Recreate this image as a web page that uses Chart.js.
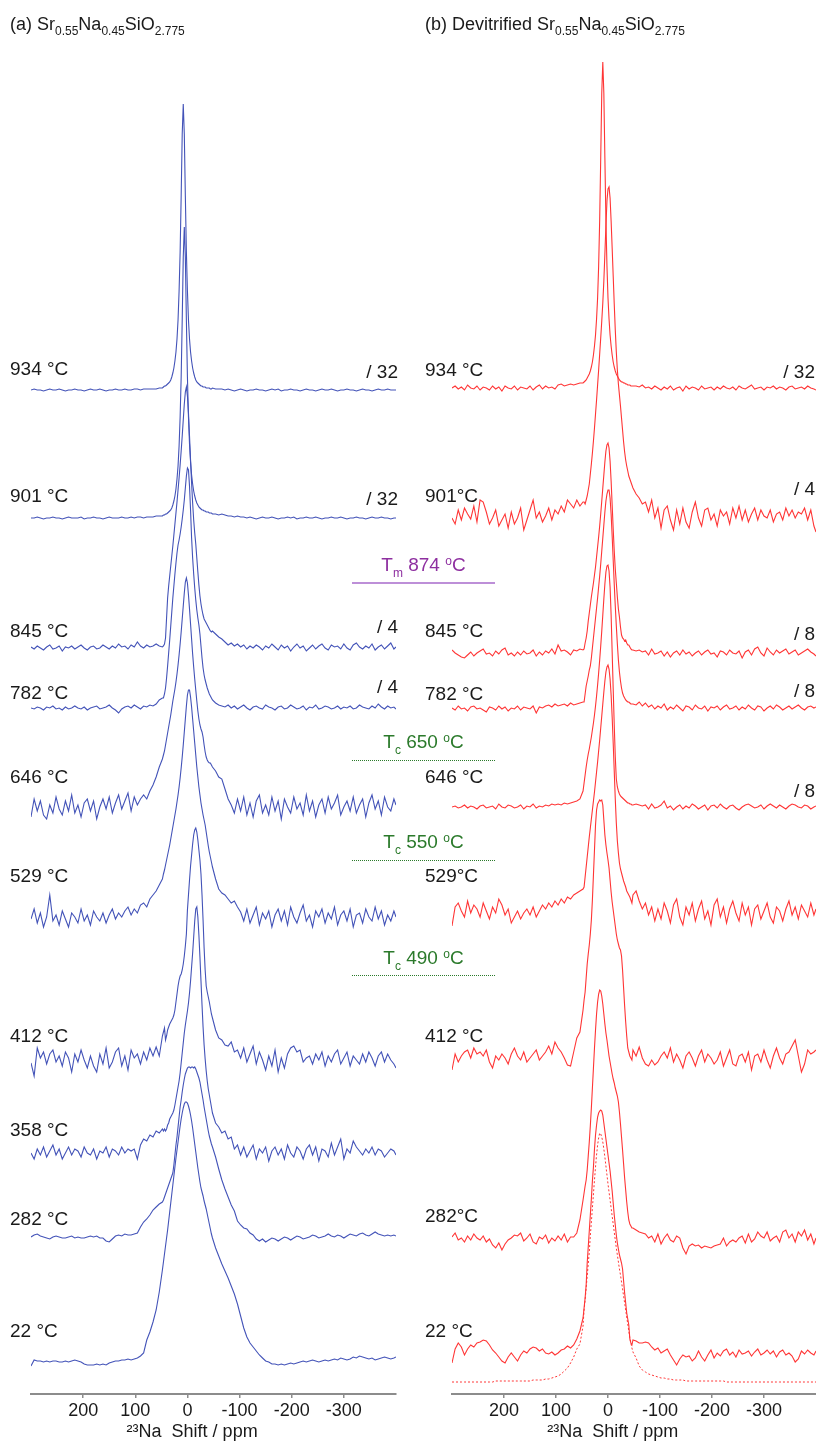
<!DOCTYPE html>
<html>
<head>
<meta charset="utf-8">
<script src="https://cdn.jsdelivr.net/npm/chart.js@4.4.0/dist/chart.umd.min.js"></script>
<style>
body { margin: 0; background: #fff; font-family: "Liberation Sans", Arial, sans-serif; }
#wrap { position: relative; width: 816px; height: 1444px; overflow: hidden; }
canvas { position: absolute; top: 0; }
#cA { left: 0; }
#cB { left: 420px; }
.ttl { position: absolute; top: 14px; font-size: 18px; line-height: 20px; color: #1a1a1a; white-space: nowrap; z-index: 2; }
.ttl sub { font-size: 12px; line-height: 0; vertical-align: -5px; }
.mk { position: absolute; left: 352px; width: 143px; text-align: center; font-size: 19px; line-height: 20px; white-space: nowrap; z-index: 2; }
.mk sub { font-size: 12px; line-height: 0; vertical-align: -6px; }
.mk sup { font-size: 12px; line-height: 0; vertical-align: 6px; }
.ln { position: absolute; left: 352px; width: 143px; z-index: 2; }
</style>
</head>
<body>
<div id="wrap">
  <canvas id="cA" width="408" height="1444"></canvas>
  <canvas id="cB" width="396" height="1444"></canvas>
  <div class="ttl" style="left:10px">(a) Sr<sub>0.55</sub>Na<sub>0.45</sub>SiO<sub>2.775</sub></div>
  <div class="ttl" style="left:425px">(b) Devitrified Sr<sub>0.55</sub>Na<sub>0.45</sub>SiO<sub>2.775</sub></div>

  <div class="mk" style="top:555px;color:#8e2fa0">T<sub>m</sub> 874 <sup>o</sup>C</div>
  <div class="ln" style="top:582px;height:2px;background:#bd8fd8"></div>
  <div class="mk" style="top:732px;color:#2b7a2b">T<sub>c</sub> 650 <sup>o</sup>C</div>
  <div class="ln" style="top:760px;height:0;border-top:1px dotted #2b7a2b"></div>
  <div class="mk" style="top:832px;color:#2b7a2b">T<sub>c</sub> 550 <sup>o</sup>C</div>
  <div class="ln" style="top:860px;height:0;border-top:1px dotted #2b7a2b"></div>
  <div class="mk" style="top:948px;color:#2b7a2b">T<sub>c</sub> 490 <sup>o</sup>C</div>
  <div class="ln" style="top:975px;height:0;border-top:1px dotted #2b7a2b"></div>
</div>
<script>
var FONT = '"Liberation Sans", Arial, sans-serif';
Chart.defaults.font.family = FONT;

// shift grid (ppm): outer left, inner (peak region), outer right
var gridL = [300,294,288,282,276,270,264,258,252,246,240,234,228,222,216,210,204,198,192,186,
  180,174,168,162,156,150,144,138,132,126,120,114,108,102,96,90,84,78,72,66,60,54,48];
var gridI = [46,44,42,40,38,36,34,32,30,28,26,24,22,20,18,16,14,12,10,8,6,4,2,0,
  -2,-4,-6,-8,-10,-12,-14,-16,-18,-20,-22,-24,-26,-28,-30,-32,-34,-36,-38,-40,-42,-44,-46];
var gridR = [-48,-54,-60,-66,-72,-78,-84,-90,-96,-102,-108,-114,-120,-126,-132,-138,-144,-150,-156,-162,
  -168,-174,-180,-186,-192,-198,-204,-210,-216,-222,-228,-234,-240,-246,-252,-258,-264,-270,-276,-282,
  -288,-294,-300,-306,-312,-318,-324,-330,-336,-342,-348,-354,-360,-366,-372,-378,-384,-390,-396,-400];
var tickVals = [200, 100, 0, -100, -200, -300];

// (a) glass, intensities above each trace's own baseline
var a934 = [
  [0,1,0,0,-1,0,1,0,0,1, 0,-1,0,0,1,0,0,-1,0,1, 0,0,1,0,-1,0,0,1,0,0, 1,0,0,1,1,0,1,1,1,1, 1,2,2],
  [3,4,4,5,6,7,8,10,13,17, 22,29,38,51,70,99,138,194,256,286, 256,194,138,99,70,51,38,29,22,17, 13,10,8,7,6,5,4,4,3,3, 3,2,2,2,2,1,1],
  [2,1,1,1,0,1,0,-1,0,1, 0,-1,0,0,1,0,0,-1,0,1, 0,1,-1,0,0,1,0,0,-1,0, 1,0,0,-1,0,1,0,0,1,0, -1,0,0,1,0,0,-1,0,1,0, 0,-1,0,1,0,0,1,0,0,0]
];
var a901 = [
  [0,0,1,0,-1,0,0,1,0,0, -1,0,1,0,0,0,1,-1,0,0, 1,0,0,-1,0,1,0,0,0,1, 0,0,1,0,1,1,0,1,1,1, 2,2,2],
  [3,3,4,4,5,6,7,8,10,13, 17,22,29,39,52,72,101,141,198,261, 291,261,198,141,101,74,56,43,34,27, 22,18,15,13,11,10,9,8,8,7, 7,6,6,6,5,5,5],
  [4,4,3,4,3,2,2,1,2,1, 1,0,1,0,-1,0,1,0,0,1, 0,-1,0,0,1,0,1,-1,0,0, 1,0,0,1,0,-1,0,0,1,0, 0,1,0,-1,0,0,1,0,0,-1, 0,1,0,0,1,0,0,-1,0,0]
];
var a845 = [
  [1,-1,2,0,-2,1,3,-1,0,2, -3,1,0,2,-1,1,3,0,-2,1, 2,-1,0,3,1,-1,2,0,4,1, 2,-1,3,1,6,2,0,3,1,2, 4,2,1],
  [2,4,10,30,50,62,72,82,92,102, 113,124,135,146,158,170,183,197,212,228, 244,256,261,252,235,212,188,165,145,128, 115,104,90,76,63,52,44,38,33,29, 27,25,23,21,19,17,16],
  [17,14,11,9,6,3,5,2,4,1, 3,-1,2,0,3,1,-2,2,0,4, 1,-2,3,0,2,-3,1,4,0,2, -3,0,3,-1,2,4,0,-2,3,1, 2,-1,4,0,-2,3,5,1,-1,2, 0,4,-2,1,3,-1,2,5,-1,1]
];
var a782 = [
  [0,-1,1,0,-2,1,0,2,-1,0, -2,1,-1,0,2,0,-1,1,-2,0, 1,2,-1,0,1,3,0,-2,-5,-1, 1,2,0,3,1,-1,2,1,3,2, 4,8,10],
  [10,14,20,30,42,55,68,82,96,110, 122,134,145,155,163,168,174,181,189,198, 208,220,232,240,238,222,198,170,150,134, 120,108,98,90,83,74,62,50,40,33, 28,24,20,17,14,12,10],
  [8,5,3,2,1,3,0,2,-1,1, 3,0,-2,1,2,0,-1,3,1,0, -2,1,2,-1,0,3,1,-1,0,2, -2,1,0,3,-1,0,2,1,-1,0, 2,-1,1,0,2,-1,0,3,1,0, -1,2,0,4,1,-1,2,0,1,-1]
];
var a646 = [
  [-10,8,-4,6,-8,-12,2,-6,10,-2, -8,6,-4,12,-6,2,-10,4,8,-4, 6,-12,0,8,-2,10,-6,4,12,-2, 6,14,-4,10,2,8,12,8,16,22, 30,40,48],
  [52,56,62,68,74,80,86,92,99,106, 112,118,125,133,142,152,163,175,188,201, 214,225,229,224,212,198,183,168,153,140, 128,117,106,96,88,82,78,75,70,62, 55,50,47,45,44,44,42],
  [40,36,30,28,18,8,2,-6,8,-4, 10,-8,4,-10,6,12,-6,2,-8,10, -4,6,-12,8,0,-6,10,-2,4,-8, 12,-4,6,-10,2,8,-6,10,-2,4, 12,-8,0,6,-4,10,-6,2,8,-10, 4,12,-2,6,-8,10,0,-4,8,2]
];
var a529 = [
  [-2,8,-6,4,-10,0,22,-4,2,-8, 6,-2,-10,4,0,-6,8,-4,2,-8, 6,0,-4,4,-6,2,8,-2,4,0, 6,10,2,8,4,12,14,10,18,22, 26,32,38],
  [43,47,52,57,62,67,72,78,84,90, 96,102,108,115,122,130,139,149,160,172, 185,198,211,222,227,227,220,210,198,186, 174,162,150,140,130,122,114,108,102,97, 92,85,78,71,65,60,55],
  [50,38,28,24,22,18,14,16,10,5, -4,8,-6,2,10,-8,4,-2,6,-10, 2,8,-4,6,-8,10,0,-6,4,12, -4,2,-10,6,0,8,-6,4,-2,10, -8,2,6,-4,8,-10,2,4,-6,8, 0,-4,10,-2,6,-8,2,-4,6,0]
];
var a412 = [
  [-3,-16,12,2,8,-4,6,10,-2,4, -6,8,2,-12,6,-2,10,0,-8,4, -6,-12,6,-4,12,-8,-2,8,12,-6, 4,-10,10,2,6,-4,8,0,12,4, 13,4,24],
  [28,32,20,24,30,33,36,38,40,42, 45,50,58,66,74,80,84,86,90,96, 104,114,126,150,165,180,194,205,216,225, 230,232,228,220,210,200,186,165,140,112, 90,74,68,63,58,52,46],
  [42,30,22,20,15,14,18,8,10,2, 12,-2,6,14,-4,8,0,-10,4,-6, 10,-12,2,-8,6,12,14,8,10,-2, 2,4,-4,6,0,8,-6,4,-2,6, 10,-4,2,8,-6,4,0,-4,6,-2, 8,2,-6,4,8,-2,6,0,-4,-8]
];
var a358 = [
  [0,-6,4,-2,6,-4,2,8,-2,4, -6,0,6,-2,4,2,-4,6,0,-2, 4,-6,2,0,6,-4,4,2,-2,6, 0,4,2,4,-6,8,14,12,18,16, 22,20,24],
  [22,24,22,24,28,30,34,36,38,40, 43,48,54,60,66,72,80,90,100,110, 120,128,135,142,150,160,172,186,200,216, 232,244,246,236,218,196,172,148,126,108, 94,82,72,64,58,52,46],
  [40,30,26,20,22,14,16,4,8,-2, 6,-4,2,8,-6,4,0,6,-8,2, 6,-2,4,-6,8,0,-4,6,2,-6, 4,8,-2,6,-8,4,2,-4,10,-2, 6,14,-6,4,0,12,6,2,-2,4, 0,6,-2,4,2,-4,0,4,2,-2]
];
var a282 = [
  [0,2,3,1,0,-1,-2,0,1,0, -1,-1,0,1,-1,0,-1,-1,0,1, 0,1,-1,-1,-4,-5,-2,1,2,1, 3,2,2,3,4,10,15,18,22,27, 30,33,35],
  [37,40,43,46,49,52,55,58,61,64, 72,82,92,100,110,120,130,137,145,152, 158,163,166,169,170,170,169,170,170,169, 170,168,165,162,159,155,149,143,137,130, 124,118,112,106,101,97,93],
  [90,80,68,57,48,40,32,26,16,12, 9,8,4,2,-2,-4,-2,-5,-3,-1, -2,-4,-2,0,-1,-3,-1,1,0,-2, -1,0,2,1,-1,0,1,3,1,0, 2,1,-1,1,3,2,1,3,4,2, 1,3,5,3,2,1,2,1,2,1]
];
var a22 = [
  [-4,2,1,1,0,1,0,1,1,0, 0,1,0,1,2,1,0,-2,-3,-3, -3,-2,-3,-2,-3,-1,0,1,1,2, 2,3,2,3,4,6,9,22,30,40, 52,70,92],
  [100,108,116,124,132,141,150,159,168,177, 186,195,204,212,220,228,236,243,249,254, 258,260,260,259,256,252,247,241,234,226, 218,210,202,194,187,180,174,170,166,161, 157,153,148,143,138,133,128],
  [124,114,106,98,91,84,76,68,58,46, 34,25,19,15,11,7,4,1,0,-2, -2,-3,-2,-3,-2,-1,-2,-1,0,1, 0,1,2,1,0,1,2,1,2,3, 2,4,3,2,3,5,4,6,5,4, 3,4,2,3,4,5,4,3,4,5]
];

// (b) devitrified
var b934 = [
  [0,2,-1,1,-2,3,0,-1,2,-2, 1,0,-2,2,-1,1,-3,2,0,-1, 2,-2,1,0,-1,2,-2,1,3,-1, 2,0,1,-1,3,4,2,3,4,3, 4,5,5],
  [6,7,8,10,12,14,17,21,26,33, 42,53,69,90,122,168,230,295,326,295, 230,168,122,90,69,53,42,33,26,21, 17,14,12,10,8,7,6,6,5,5, 4,4,3,3,3,2,2],
  [2,2,1,3,0,1,-1,2,0,-2, 1,-1,2,-2,0,1,-3,2,-1,1, 0,-2,2,-1,0,1,-2,1,-1,2, 0,-1,1,-2,2,0,-1,1,3,-1, 0,1,-2,1,0,2,-1,1,0,-2, 1,2,-1,0,1,-1,2,0,-1,-2]
];
var b901 = [
  [-2,-8,6,-4,8,2,-3,10,-6,16, 14,4,-8,-2,6,-10,-4,2,-12,4, -8,-2,8,-14,-4,6,16,-2,4,-6, 0,8,-4,6,2,10,4,16,12,8, 16,10,14],
  [14,12,16,20,26,32,42,52,63,75, 88,102,116,131,146,162,178,195,213,235, 262,290,315,327,329,318,295,268,240,212, 186,164,146,132,121,110,98,86,74,64, 56,50,45,40,37,34,31],
  [28,22,18,12,14,4,16,-2,8,-12, 6,10,-4,-14,6,-8,8,-6,-12,4, 14,-2,-10,6,8,-4,2,-10,6,0, 4,-8,8,-2,10,-4,6,-6,2,8, -4,6,0,-2,6,-6,2,4,-4,8, 0,6,-2,4,2,8,-4,6,-10,-16]
];
var b845 = [
  [3,0,-2,-4,-5,-2,1,-3,0,2, 4,-1,0,-3,2,-1,3,5,-2,0, -3,1,-2,2,-1,0,3,-3,1,-2, 2,0,4,-1,8,2,3,1,-2,3, 2,4,3],
  [4,10,15,22,32,40,48,56,63,70, 78,86,96,106,116,127,139,152,165,178, 191,202,208,210,205,192,172,148,124,102, 84,70,56,44,36,26,18,15,14,12, 13,10,8,8,6,4,3],
  [3,2,3,1,2,-2,4,-1,0,2, -3,1,-4,0,2,-2,3,-1,1,-3, 0,2,-2,1,3,-1,0,-4,2,1, -2,3,0,-1,2,-5,1,3,-2,4, 6,0,-3,5,1,-2,3,0,2,4, -1,1,3,-2,0,2,4,1,-1,-3]
];
var b782 = [
  [0,-2,2,-1,0,-3,1,2,-1,0, -2,-4,1,0,-2,2,-1,1,-3,0, -1,2,-2,1,0,-1,2,-5,1,0, 2,3,1,4,2,3,4,2,5,3, 4,5,6],
  [6,14,22,27,32,38,42,50,60,70, 80,90,100,110,121,132,144,157,170,183, 196,207,214,218,218,210,194,172,148,124, 102,82,64,48,36,27,20,15,12,10, 8,7,6,6,5,4,4],
  [4,3,6,2,5,1,3,-1,2,0, 4,-2,1,-1,3,0,-3,2,1,-2, 3,0,-1,2,-3,1,0,2,-2,1, 3,-1,0,2,-2,1,-1,3,0,-2, 2,1,-3,0,2,-1,3,1,-2,0, 2,-1,1,3,0,-2,1,2,0,1]
];
var b646 = [
  [0,1,-1,0,2,-1,1,0,-2,1, 2,-1,0,1,-2,3,0,-1,2,1, -1,0,2,-2,1,0,3,-1,1,0, 2,1,3,2,3,2,4,3,4,5, 6,8,16],
  [24,32,40,47,53,58,64,70,77,84, 92,101,111,122,134,147,161,176,192,208, 223,235,241,242,236,220,192,155,118,82, 50,28,20,16,13,11,10,9,8,7, 6,5,4,4,3,3,2],
  [2,3,2,1,2,-2,3,-1,0,2, 6,-1,1,-3,0,2,-2,1,-1,3, 1,-2,0,2,-3,1,2,-1,3,0, -2,1,2,-1,-3,0,2,3,1,-1, 0,2,-2,1,3,1,-1,2,0,-2, 1,3,2,0,-1,2,1,-2,0,1]
];
var b529 = [
  [-13,6,10,2,-4,12,0,8,4,-4, 10,2,-6,6,0,14,8,-2,4,-10, -4,2,-6,0,4,-2,6,-4,2,8, 4,10,6,12,8,14,10,16,14,18, 20,22,24],
  [26,36,46,56,66,76,85,94,103,112, 121,131,141,151,162,173,185,197,209,221, 232,241,246,248,244,234,218,196,170,142, 114,90,72,60,50,44,40,36,32,29, 26,22,20,18,16,13,10],
  [18,22,12,4,10,-2,6,-8,4,-6, 10,2,-10,8,14,-4,-12,6,-2,10, -8,4,12,-6,2,-12,8,14,-4,6, -10,4,12,0,-8,10,-2,6,-12,4, 8,-6,2,10,-4,-10,6,2,-8,4, 12,-2,6,-6,8,2,-4,10,-2,4]
];
var b412 = [
  [-10,6,-2,4,8,10,2,12,6,8, 4,10,-2,-8,4,0,6,2,-4,6, 12,4,0,8,-2,2,6,10,0,4, 8,14,6,18,12,8,2,-5,-6,8, 22,28,50],
  [60,68,82,96,106,115,126,140,160,185, 210,235,250,256,258,260,259,260,255,240, 225,215,207,200,192,180,168,158,150,142, 134,126,120,116,112,110,104,90,72,54, 38,24,12,8,4,2,0],
  [10,4,13,2,-4,-6,0,-5,-2,4, 8,2,12,-2,6,0,-8,4,8,2, -6,4,10,-2,6,2,-4,0,8,-6, 2,10,-4,-6,4,6,-2,8,-10,4, 6,-2,10,0,-8,4,12,2,-4,6, 8,14,20,4,-12,-4,10,6,8,10]
];
var b282 = [
  [3,7,0,2,-2,4,0,6,2,0, 4,-2,1,-5,-8,-3,-10,-4,0,2, 5,4,7,-1,2,6,-2,-4,3,1, 5,-3,2,-1,4,0,6,-2,3,3, 7,20,40],
  [47,54,60,70,84,98,114,132,152,172, 192,210,226,238,246,250,249,244,236,226, 216,207,200,192,184,178,172,166,161,157, 152,148,144,138,128,116,103,90,76,62, 50,38,28,20,16,14,12],
  [12,10,8,7,6,2,4,-2,6,-4, 2,6,0,-2,4,2,-8,-14,-6,-4, -6,-5,-8,-6,-7,-8,-6,-5,-4,2, -6,-2,0,-2,2,4,-3,6,-2,1, 8,4,2,8,-1,2,4,-2,8,10, 2,6,-2,8,4,10,0,6,-4,2]
];
var b22 = [
  [-10,4,10,6,-2,4,8,6,10,11, 13,12,8,3,0,-4,-8,-10,-4,0, -4,-8,-2,2,0,4,6,5,2,4, 0,-1,1,-2,0,3,4,7,5,8, 14,22,35],
  [45,55,68,90,106,122,138,154,172,186, 204,218,228,236,240,242,243,242,238,230, 222,214,206,198,190,182,172,162,150,138, 128,118,110,104,98,94,90,84,72,60, 50,40,34,28,14,10,8],
  [13,12,10,10,11,10,6,3,5,0, 2,4,-2,-7,-12,-6,-2,-4,-3,-8, -5,2,-4,-8,-2,3,-5,0,-3,2, 4,-2,1,-4,3,-1,0,2,-3,1, 4,-2,0,3,-1,2,-4,1,3,-2, 0,-3,-9,-6,2,-1,3,0,-2,2]
];
var b22fit = [
  [0,0,0,0,0,0,0,0,0,0, 0,0,0,0,1,1,1,1,1,1, 1,1,1,1,1,1,2,2,2,2, 3,3,4,5,6,8,11,14,19,25, 33,38,56],
  [72,82,94,106,118,130,146,160,174,188, 202,215,227,237,244,249,248,245,240,233, 225,216,207,198,190,182,174,166,158,150, 142,134,127,120,113,107,100,93,86,79, 72,65,58,51,44,39,34],
  [30,24,16,12,10,8,7,6,5,4, 4,3,3,2,2,2,2,1,1,1, 1,1,1,1,1,1,1,1,1,1, 0,0,0,0,0,0,0,0,0,0, 0,0,0,0,0,0,0,0,0,0, 0,0,0,0,0,0,0,0,0,0]
];

var specsA = [a934, a901, a845, a782, a646, a529, a412, a358, a282, a22];
var tempsA = ['934 °C', '901 °C', '845 °C', '782 °C', '646 °C', '529 °C', '412 °C', '358 °C', '282 °C', '22 °C'];
var divA = ['/ 32', '/ 32', '/ 4', '/ 4', '', '', '', '', '', ''];

var specsB = [b934, b901, b845, b782, b646, b529, b412, b282, b22];
var tempsB = ['934 °C', '901°C', '845 °C', '782 °C', '646 °C', '529°C', '412 °C', '282°C', '22 °C'];
var divB = ['/ 32', '/ 4', '/ 8', '/ 8', '/ 8', '', '', '', ''];

// stacking: baseline of each trace and label levels, in plot units
var baseA = [1004, 876, 746, 686, 587, 477, 334, 241, 157, 32];
var tempYA = [1024, 897, 762, 700, 616, 517, 357, 263, 174, 62];
var divYA = [1021, 894, 766, 706];
var baseB = [1006, 878, 741, 686, 587, 481, 334, 154, 41];
var baseFit = 12;
var tempYB = [1023, 897, 762, 699, 616, 517, 357, 177, 62];
var divYB = [1021, 904, 759, 702, 602];

function toPoints(spec, base) {
  var grids = [gridL, gridI, gridR];
  var pts = [];
  spec.forEach(function (seg, k) {
    var g = grids[k];
    for (var i = 0; i < Math.min(seg.length, g.length); i++) {
      pts.push({ x: g[i], y: base + seg[i] });
    }
  });
  return pts;
}

function makePanel(id, specs, bases, color, padL, padR, temps, tempY, tempX, divs, divY, divX, extra) {
  var datasets = specs.map(function (s, i) {
    return { data: toPoints(s, bases[i]), borderColor: color, borderWidth: 1.1,
      pointRadius: 0, fill: false, tension: 0 };
  });
  if (extra) datasets.push(extra);

  var labelPlugin = {
    id: 'labels',
    afterDraw: function (chart) {
      var ctx = chart.ctx, y = chart.scales.y, x = chart.scales.x;
      ctx.save();
      ctx.fillStyle = '#1a1a1a';
      ctx.textBaseline = 'middle';
      ctx.font = '19px ' + FONT;
      ctx.textAlign = 'left';
      temps.forEach(function (t, i) { ctx.fillText(t, tempX, y.getPixelForValue(tempY[i])); });
      ctx.textAlign = 'right';
      divs.forEach(function (t, i) { if (t) ctx.fillText(t, divX, y.getPixelForValue(divY[i])); });
      ctx.textAlign = 'center';
      ctx.font = '18px ' + FONT;
      ctx.fillText('\u00b2\u00b3Na  Shift / ppm', x.getPixelForValue(-9), chart.chartArea.bottom + 38);
      ctx.restore();
    }
  };

  return new Chart(document.getElementById(id), {
    type: 'line',
    data: { datasets: datasets },
    plugins: [labelPlugin],
    options: {
      responsive: false,
      animation: false,
      events: [],
      layout: { padding: { left: padL, right: padR, top: 40, bottom: 0 } },
      plugins: { legend: { display: false }, tooltip: { enabled: false } },
      scales: {
        x: {
          type: 'linear', reverse: true, min: -400, max: 300,
          afterBuildTicks: function (s) { s.ticks = tickVals.map(function (v) { return { value: v }; }); },
          afterFit: function (s) { s.height = 50; },
          grid: { display: true, drawOnChartArea: false, drawTicks: true, tickLength: 4, color: '#8c8c8c', lineWidth: 1.5 },
          border: { display: true, color: '#8c8c8c', width: 2 },
          ticks: { color: '#1a1a1a', font: { size: 18 }, padding: 2, maxRotation: 0, autoSkip: false }
        },
        y: { display: false, min: 0, max: 1354 }
      }
    }
  });
}

var blue = '#4353b8';
var red = '#ff3535';

makePanel('cA', specsA, baseA, blue, 31, 12, tempsA, tempYA, 10, divA, divYA, 398, null);
makePanel('cB', specsB, baseB, red, 32, 0, tempsB, tempYB, 5, divB, divYB, 395, {
  data: toPoints(b22fit, baseFit), borderColor: red, borderWidth: 1, borderDash: [2, 2],
  pointRadius: 0, fill: false, tension: 0
});
</script>
</body>
</html>
